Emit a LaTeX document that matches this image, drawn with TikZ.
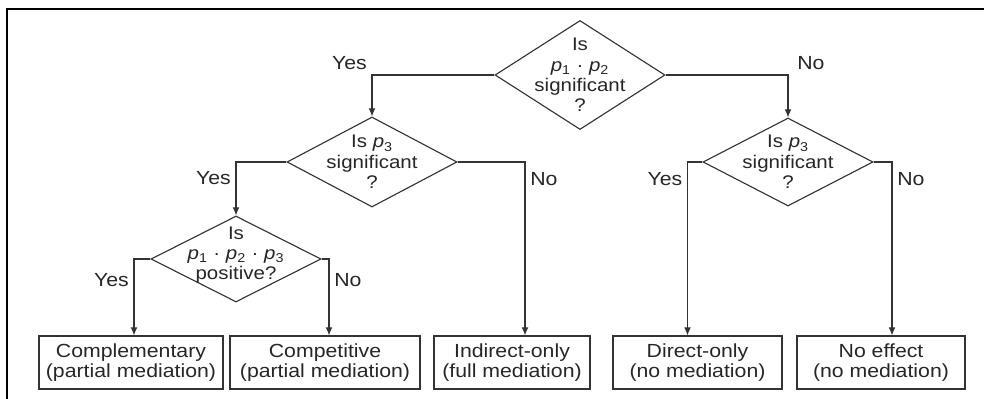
\documentclass[tikz,border=0pt]{standalone}
\usepackage{fontspec}
\setmainfont[FakeStretch=1.12]{Liberation Sans}
\usetikzlibrary{shapes.geometric,arrows.meta}
\newcommand{\pv}[1]{\textit{p}\textsubscript{#1}}

\begin{document}
\begin{tikzpicture}[x=0.025cm,y=-0.025cm,
    >={Latex[length=2mm,width=1.7mm]},
    every node/.style={font=\fontsize{13.5}{14.5}\selectfont, text=black!85},
    decision/.style={shape=diamond, draw=black!80, line width=0.8pt,
      inner sep=0pt, minimum width=4.25cm, minimum height=#1},
    qtext/.style={align=center, font=\fontsize{13}{14.5}\selectfont},
    outcome/.style={draw=black!80, line width=0.8pt, align=center,
      inner sep=0pt, minimum height=1.325cm},
    flow/.style={->, draw=black!80, line width=0.8pt}]
    \useasboundingbox (0,0) rectangle (984,399);
    \draw[line width=1.4pt] (7,399) -- (7,9) -- (984,9);
    % questions
    \node[decision=2.725cm, label={[qtext]center:{Is\\\pv{1} · \pv{2}\\significant\\?}}] (q1) at (580,75) {};
    \node[decision=2.25cm, label={[qtext]center:{Is \pv{3}\\significant\\?}}] (q2) at (372,162) {};
    \node[decision=2.15cm, label={[qtext,yshift=0.1cm]center:{Is\\\pv{1} · \pv{2} · \pv{3}\\positive?}}] (q3) at (236,259) {};
    \node[decision=2.2cm, label={[qtext]center:{Is \pv{3}\\significant\\?}}] (q4) at (788,162) {};
    % outcomes
    \node[outcome, minimum width=4.6cm] (b1) at (131,362.5) {Complementary\\(partial mediation)};
    \node[outcome, minimum width=4.75cm] (b2) at (325,362.5) {Competitive\\(partial mediation)};
    \node[outcome, minimum width=3.9cm] (b3) at (512,362.5) {Indirect-only\\(full mediation)};
    \node[outcome, minimum width=4.225cm] (b4) at (697.5,362.5) {Direct-only\\(no mediation)};
    \node[outcome, minimum width=4.2cm] (b5) at (881,362.5) {No effect\\(no mediation)};
    % connectors
    \draw[flow] (q1.west) -| node[pos=0.5, above left] {Yes} (q2.north);
    \draw[flow] (q1.east) -| node[pos=0.5, above right, xshift=0.1cm] {No} (q4.north);
    \draw[flow] (q2.west) -| node[pos=0.65, left] {Yes} (q3.north);
    \draw[flow] (q2.east) -| node[pos=0.55, right] {No} ([xshift=0.325cm]b3.north);
    \draw[flow] (q3.west) -| node[pos=0.64, left] {Yes} ([xshift=0.075cm]b1.north);
    \draw[flow] (q3.east) -| node[pos=0.64, right] {No} ([xshift=0.1cm]b2.north);
    \draw[flow] (q4.west) -| node[pos=0.55, left] {Yes} ([xshift=-0.25cm]b4.north);
    \draw[flow] (q4.east) -| node[pos=0.55, right] {No} ([xshift=0.275cm]b5.north);
\end{tikzpicture}
\end{document}
